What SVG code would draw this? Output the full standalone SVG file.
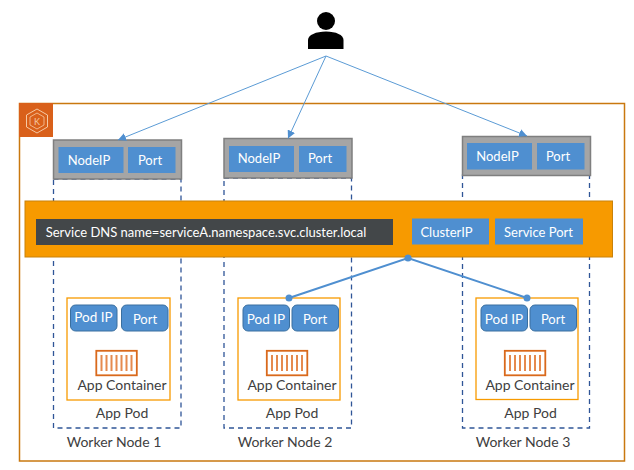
<svg xmlns="http://www.w3.org/2000/svg" xmlns:xlink="http://www.w3.org/1999/xlink" width="634" height="470" viewBox="0 0 634 470">
<style>
text{font-family:Lato,"Open Sans","Liberation Sans",sans-serif;font-size:13px;text-anchor:middle}
.w{fill:#fff}
.d{fill:#404040;font-size:14px}
.gray{fill:#a5a5a5;stroke:#7f7f7f;stroke-width:1.5}
.blue{fill:#4f8fd0}
.pod{fill:#fff;stroke:#f79a00;stroke-width:1.3}
.pill{fill:#4f8fd0;stroke:#3a6f9f;stroke-width:1}
.dash{fill:none;stroke:#2f5597;stroke-width:1.3;stroke-dasharray:5 4}
.req{fill:none;stroke:#5b9bd5;stroke-width:1}
.svc{fill:none;stroke:#4f8fd0;stroke-width:2}
.dot{fill:#4f8fd0}
.ic{fill:none;stroke:#e58a4e}
.pip{font-size:13.500px}
.hex{fill:none;stroke:#f6c9a4}
</style>
<defs>
<marker id="a" markerUnits="userSpaceOnUse" markerWidth="9" markerHeight="8" refX="8" refY="4" orient="auto"><path d="M0 0L8 4L0 8Z" fill="#4f8fd0"/></marker>
<g id="ctr">
<rect x="0.800" y="0.800" width="40.500" height="24.500" fill="#fff" stroke="#d9691c" stroke-width="1.800"/>
<path class="ic" stroke-width="2" d="M6 5V21M11 5V21M16 5V21M21 5V21M26 5V21M31 5V21M36 5V21"/>
</g>
</defs>
<g id="cluster">
<rect x="19.500" y="103.500" width="605" height="357.500" fill="#fff" stroke="#c9780f" stroke-width="1.500"/>
<rect x="19" y="103" width="34" height="34" fill="#d9601a"/>
<path class="hex" d="M37 109L47.500 115V127L37 133L26.500 127V115Z" stroke-width="1"/>
<path class="hex" d="M37 113L44 117V125L37 129L30 125V117Z" stroke-width="0.800"/>
<text x="37" y="125" style="font-size:9px;fill:#f6c9a4">K</text>
</g>
<g id="worker-lines">
<rect class="dash" x="53.500" y="179" width="127.500" height="249"/>
<rect class="dash" x="224" y="178" width="127.500" height="250"/>
<rect class="dash" x="462.500" y="175" width="127" height="253"/>
</g>
<g id="node-port-1">
<rect class="gray" x="53.500" y="140" width="128" height="39"/>
<rect class="blue" x="58.500" y="147" width="65" height="26"/><text class="w" x="89" y="164.500">NodeIP</text>
<rect class="blue" x="128" y="147" width="47.500" height="26"/><text class="w" x="150" y="164.500">Port</text>
</g>
<g id="node-port-2">
<rect class="gray" x="224" y="138.500" width="128" height="39.500"/>
<rect class="blue" x="229" y="146" width="65" height="26"/><text class="w" x="259" y="163">NodeIP</text>
<rect class="blue" x="299" y="146" width="47.500" height="26"/><text class="w" x="320" y="163">Port</text>
</g>
<g id="node-port-3">
<rect class="gray" x="462.500" y="136.500" width="128" height="39"/>
<rect class="blue" x="467" y="143" width="65" height="26.500"/><text class="w" x="497.500" y="161">NodeIP</text>
<rect class="blue" x="537" y="143" width="47.500" height="26.500"/><text class="w" x="558" y="161">Port</text>
</g>
<g id="service">
<rect x="25" y="201" width="587.500" height="56" fill="#f79a00" stroke="#c9820a" stroke-width="1"/>
<rect x="36" y="219" width="357" height="26" fill="#434749"/>
<text class="w" x="206" y="236.500">Service DNS name=serviceA.namespace.svc.cluster.local</text>
<rect class="blue" x="412" y="218.500" width="77" height="26"/><text class="w" x="446.500" y="236.500">ClusterIP</text>
<rect class="blue" x="495" y="218.500" width="88" height="26"/><text class="w" x="538.500" y="236.500">Service Port</text>
</g>
<g id="app-pod-1">
<rect class="pod" x="67" y="298" width="103" height="102"/>
<rect class="pill" x="70.500" y="305" width="46.500" height="26" rx="5"/><text class="w pip" x="93.500" y="322">Pod IP</text>
<rect class="pill" x="121.500" y="305" width="46.500" height="26" rx="5"/><text class="w" x="145" y="323.500">Port</text>
<use xlink:href="#ctr" href="#ctr" x="95.500" y="350"/>
<text class="d" x="122" y="390">App Container</text>
<text class="d" x="122" y="418">App Pod</text>
<text class="d" x="114" y="447">Worker Node 1</text>
</g>
<g id="app-pod-2">
<rect class="pod" x="238" y="298" width="102" height="102"/>
<rect class="pill" x="243" y="305" width="46.500" height="26" rx="5"/><text class="w pip" x="266" y="324">Pod IP</text>
<rect class="pill" x="292" y="305" width="46.500" height="26" rx="5"/><text class="w" x="315" y="323.500">Port</text>
<use xlink:href="#ctr" href="#ctr" x="266" y="350"/>
<text class="d" x="292" y="390">App Container</text>
<text class="d" x="292" y="418">App Pod</text>
<text class="d" x="285" y="447">Worker Node 2</text>
</g>
<g id="app-pod-3">
<rect class="pod" x="476" y="298" width="102" height="101.500"/>
<rect class="pill" x="481" y="305" width="46.500" height="26" rx="5"/><text class="w pip" x="504" y="324">Pod IP</text>
<rect class="pill" x="530" y="305" width="46.500" height="26" rx="5"/><text class="w" x="553" y="323.500">Port</text>
<use xlink:href="#ctr" href="#ctr" x="504" y="350"/>
<text class="d" x="530" y="390">App Container</text>
<text class="d" x="530.500" y="418">App Pod</text>
<text class="d" x="523" y="447">Worker Node 3</text>
</g>
<g id="user">
<circle cx="326" cy="21" r="9"/>
<path d="M308 49V40C308 35 316 31.500 326 31.500C336 31.500 343.500 35 343.500 40V49Z"/>
</g>
<g id="connectors">
<path class="req" d="M326 56L118 140" marker-end="url(#a)"/>
<path class="req" d="M326 56L288 138.500" marker-end="url(#a)"/>
<path class="req" d="M326 56L527 136" marker-end="url(#a)"/>
<path class="svc" d="M289 298L408 258L527 298"/>
<circle class="dot" cx="408" cy="258" r="3.500"/>
<circle class="dot" cx="289" cy="298" r="3.500"/>
<circle class="dot" cx="527" cy="298" r="3.500"/>
</g>
</svg>
